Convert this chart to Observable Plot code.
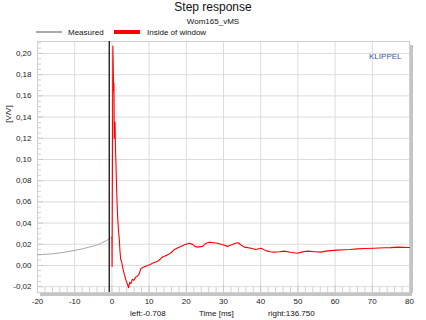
<!DOCTYPE html>
<html>
<head>
<meta charset="utf-8">
<script src="https://cdn.jsdelivr.net/npm/d3@7"></script>
<script src="https://cdn.jsdelivr.net/npm/@observablehq/plot@0.6"></script>
<style>
  html, body { margin: 0; padding: 0; background: #fff; }
  #wrap { position: relative; width: 426px; height: 320px; font-family: "Liberation Sans", Arial, sans-serif; color: #111; overflow: hidden; }
  .abs { position: absolute; white-space: nowrap; }
  .c { transform: translate(-50%, -50%); }
  .l { transform: translate(0, -50%); }
  #chart { position: absolute; left: 0; top: 38px; }
</style>
</head>
<body>
<div id="wrap">
  <div id="title" class="abs c" style="left:213px; top:7px; font-size:12px;"></div>
  <div id="subtitle" class="abs c" style="left:213px; top:21px; font-size:8px;"></div>
  <div class="abs" style="left:36px; top:31px; width:26px; height:2px; background:#a8a8a8;"></div>
  <div id="leg1" class="abs l" style="left:68px; top:32px; font-size:8px;"></div>
  <div class="abs" style="left:114px; top:30px; width:26px; height:4px; background:#ff0000;"></div>
  <div id="leg2" class="abs l" style="left:147px; top:32px; font-size:8px;"></div>
  <div id="ylabel" class="abs" style="left:8px; top:114px; font-size:8px; transform: translate(-50%,-50%) rotate(-90deg);"></div>
  <div id="chart"></div>
  <div id="bleft" class="abs l" style="left:130px; top:313px; font-size:8px;"></div>
  <div id="bmid" class="abs l" style="left:199px; top:313px; font-size:8px;"></div>
  <div id="bright" class="abs l" style="left:268px; top:313px; font-size:8px;"></div>
</div>
<script>
// ---- texts ----
const titleText = "Step response";
const subtitleText = "Wom165_vMS";
const seriesNames = ["Measured", "Inside of window"];
const yLabelText = "[V/V]";
const xLabelText = "Time [ms]";
const leftText = "left:-0.708";
const rightText = "right:136.750";
const brandText = "KLIPPEL";

// ---- axes ----
const xDomain = [-20, 80];
const yDomain = [-0.0255, 0.2113];
const xTicks = [-20, -10, 0, 10, 20, 30, 40, 50, 60, 70, 80];
const yTicks = [-0.02, 0, 0.02, 0.04, 0.06, 0.08, 0.10, 0.12, 0.14, 0.16, 0.18, 0.20];
const xMinor = [-18, -16, -14, -12, -8, -6, -4, -2, 2, 4, 6, 8, 12, 14, 16, 18, 22, 24, 26, 28, 32, 34, 36, 38, 42, 44, 46, 48, 52, 54, 56, 58, 62, 64, 66, 68, 72, 74, 76, 78];
const yMinor = [-0.015, -0.01, -0.005, 0.005, 0.01, 0.015, 0.025, 0.03, 0.035, 0.045, 0.05, 0.055, 0.065, 0.07, 0.075, 0.085, 0.09, 0.095, 0.105, 0.11, 0.115, 0.125, 0.13, 0.135, 0.145, 0.15, 0.155, 0.165, 0.17, 0.175, 0.185, 0.19, 0.195, 0.205, 0.21];
const windowLeft = -0.708;

// ---- data: Measured (before window) ----
const measuredT = [-20, -17, -14, -11, -8, -5, -3, -1, 0];
const measuredV = [0.0102, 0.0107, 0.0118, 0.0135, 0.0156, 0.0183, 0.0207, 0.0245, 0.0268];

// ---- data: Inside of window ----
const windowT = [0.0, 0.05, 0.15, 0.25, 0.35, 0.45, 0.55, 0.65, 0.75, 0.85, 0.95, 1.1, 1.25, 1.4, 1.6, 1.8, 2.0, 2.2, 2.4, 2.6, 2.9, 3.3, 3.8, 4.2, 4.5, 4.8, 5.1, 5.5, 5.9, 6.4, 6.9, 7.3, 7.8, 8.3, 8.9, 9.6, 10.3, 10.9, 11.6, 12.3, 13.0, 13.6, 14.3, 15.0, 15.9, 16.7, 17.6, 18.5, 19.5, 20.8, 21.7, 22.3, 23.0, 23.8, 24.4, 25.3, 26.2, 27.3, 28.4, 29.8, 31.1, 31.8, 32.4, 33.2, 34.0, 34.8, 35.6, 36.5, 37.4, 38.7, 39.5, 40.1, 41.4, 42.5, 43.6, 45.0, 46.3, 48.0, 49.9, 51.3, 52.6, 54.5, 56.2, 57.5, 58.9, 60.5, 62.4, 64.0, 66.0, 68.0, 70.5, 73.2, 75.0, 76.8, 78.5, 80];
const windowV = [0.027, -0.001, 0.10, 0.207, 0.19, 0.165, 0.172, 0.12, 0.128, 0.135, 0.112, 0.095, 0.075, 0.058, 0.042, 0.032, 0.024, 0.012, 0.005, 0.004, -0.002, -0.008, -0.014, -0.018, -0.021, -0.016, -0.017, -0.013, -0.014, -0.011, -0.010, -0.008, -0.003, -0.002, -0.001, 0.000, 0.001, 0.002, 0.003, 0.004, 0.006, 0.008, 0.009, 0.010, 0.012, 0.0148, 0.0165, 0.018, 0.0195, 0.021, 0.0199, 0.018, 0.0173, 0.0178, 0.018, 0.021, 0.022, 0.0215, 0.021, 0.0195, 0.018, 0.019, 0.0198, 0.021, 0.0214, 0.019, 0.0173, 0.0168, 0.0163, 0.015, 0.0158, 0.0163, 0.014, 0.013, 0.0126, 0.013, 0.0135, 0.0125, 0.0116, 0.0128, 0.0135, 0.013, 0.0126, 0.0135, 0.014, 0.0145, 0.0148, 0.015, 0.0157, 0.016, 0.0163, 0.0167, 0.0168, 0.0173, 0.0171, 0.017];

const measured = measuredT.map((t, i) => ({t, v: measuredV[i]}));
const inside = windowT.map((t, i) => ({t, v: windowV[i]}));

document.getElementById("title").textContent = titleText;
document.getElementById("subtitle").textContent = subtitleText;
document.getElementById("leg1").textContent = seriesNames[0];
document.getElementById("leg2").textContent = seriesNames[1];
document.getElementById("ylabel").textContent = yLabelText;
document.getElementById("bleft").textContent = leftText;
document.getElementById("bmid").textContent = xLabelText;
document.getElementById("bright").textContent = rightText;

const W = 426, H = 282, mL = 37, mR = 17, mT = 3, mB = 28;
const fw = W - mL - mR, fh = H - mT - mB;

const chart = Plot.plot({
  width: W, height: H,
  marginLeft: mL, marginRight: mR, marginTop: mT, marginBottom: mB,
  style: {fontFamily: "'Liberation Sans', Arial, sans-serif", fontSize: "8px", color: "#222", background: "transparent"},
  x: {domain: xDomain},
  y: {domain: yDomain},
  marks: [
    Plot.gridX(xTicks, {stroke: "#dcdcdc", strokeOpacity: 1}),
    Plot.gridY(yTicks, {stroke: "#dcdcdc", strokeOpacity: 1}),
    Plot.ruleX(xMinor, {stroke: "#d0d0d0", insetTop: fh - 5}),
    Plot.ruleX(xTicks, {stroke: "#c8c8c8", insetTop: fh - 7}),
    Plot.ruleY(yMinor, {stroke: "#d0d0d0", insetRight: fw - 4}),
    Plot.ruleY(yTicks, {stroke: "#c8c8c8", insetRight: fw - 6}),
    Plot.ruleY([yDomain[0]], {stroke: "#c4c4c4", strokeWidth: 3, dy: 2, insetLeft: 3, insetRight: -3}),
    Plot.ruleX([xDomain[1]], {stroke: "#c4c4c4", strokeWidth: 3, dx: 2, insetTop: 4, insetBottom: -1}),
    Plot.frame({stroke: "#cfcfcf"}),
    Plot.axisX(xTicks, {tickSize: 0, tickPadding: 6, label: null, tickFormat: d => String(d)}),
    Plot.axisY(yTicks, {tickSize: 0, tickPadding: 6, label: null, tickFormat: d => d.toFixed(2).replace(".", ",")}),
    Plot.line(measured, {x: "t", y: "v", stroke: "#a8a8a8", strokeWidth: 1}),
    Plot.ruleX([windowLeft], {stroke: "#222", strokeWidth: 1.4}),
    Plot.line(inside, {x: "t", y: "v", stroke: "#ff0000", strokeWidth: 1.1}),
    Plot.text([brandText], {frameAnchor: "top-right", dx: -8, dy: 12, fill: "#3a55a5", fontSize: 8})
  ]
});
document.getElementById("chart").appendChild(chart);
</script>
</body>
</html>
